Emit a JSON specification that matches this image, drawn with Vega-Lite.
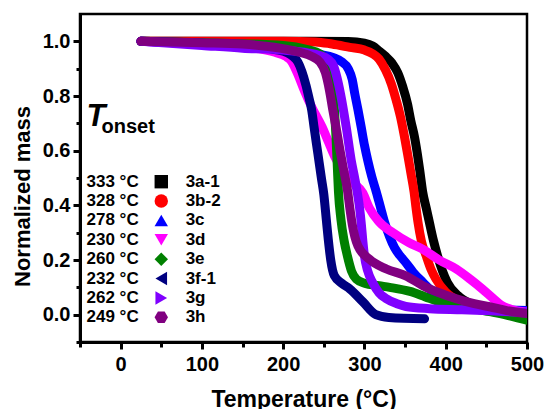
{
  "$schema": "https://vega.github.io/schema/vega-lite/v6.json",
  "width": 447,
  "height": 328,
  "autosize": "none",
  "padding": {"left": 80, "top": 14, "right": 20, "bottom": 67},
  "background": "white",
  "config": {
    "font": "Liberation Sans",
    "view": {"stroke": "black", "strokeWidth": 2.5},
    "axis": {
      "domainColor": "black", "domainWidth": 3, "tickColor": "black", "tickWidth": 3,
      "labelColor": "black", "titleColor": "black", "grid": false,
      "labelFont": "Liberation Sans", "labelFontWeight": "bold", "labelFontSize": 20,
      "titleFont": "Liberation Sans", "titleFontWeight": "bold", "titleFontSize": 22
    }
  },
  "datasets": {
    "curves": [
      {"series":"3a-1","temp":25,"mass":1.0},{"series":"3a-1","temp":100,"mass":1.0},{"series":"3a-1","temp":200,"mass":1.0},{"series":"3a-1","temp":280,"mass":0.999},{"series":"3a-1","temp":300,"mass":0.993},{"series":"3a-1","temp":310,"mass":0.983},{"series":"3a-1","temp":318,"mass":0.965},{"series":"3a-1","temp":326,"mass":0.945},{"series":"3a-1","temp":334,"mass":0.92},{"series":"3a-1","temp":341,"mass":0.885},{"series":"3a-1","temp":347,"mass":0.835},{"series":"3a-1","temp":353,"mass":0.771},{"series":"3a-1","temp":357,"mass":0.71},{"series":"3a-1","temp":361.6,"mass":0.65},{"series":"3a-1","temp":365,"mass":0.59},{"series":"3a-1","temp":368,"mass":0.529},{"series":"3a-1","temp":371.6,"mass":0.45},{"series":"3a-1","temp":376,"mass":0.39},{"series":"3a-1","temp":380,"mass":0.336},{"series":"3a-1","temp":385,"mass":0.27},{"series":"3a-1","temp":390,"mass":0.215},{"series":"3a-1","temp":396,"mass":0.16},{"series":"3a-1","temp":402,"mass":0.118},{"series":"3a-1","temp":415,"mass":0.07},{"series":"3a-1","temp":430,"mass":0.04},{"series":"3a-1","temp":450,"mass":0.02},{"series":"3a-1","temp":500,"mass":0.005},
      {"series":"3b-2","temp":25,"mass":1.0},{"series":"3b-2","temp":100,"mass":1.0},{"series":"3b-2","temp":200,"mass":1.0},{"series":"3b-2","temp":240,"mass":0.998},{"series":"3b-2","temp":260,"mass":0.99},{"series":"3b-2","temp":282,"mass":0.978},{"series":"3b-2","temp":300,"mass":0.968},{"series":"3b-2","temp":310,"mass":0.955},{"series":"3b-2","temp":318,"mass":0.935},{"series":"3b-2","temp":326,"mass":0.895},{"series":"3b-2","temp":333,"mass":0.845},{"series":"3b-2","temp":339,"mass":0.785},{"series":"3b-2","temp":345,"mass":0.715},{"series":"3b-2","temp":349,"mass":0.655},{"series":"3b-2","temp":353,"mass":0.589},{"series":"3b-2","temp":357,"mass":0.52},{"series":"3b-2","temp":361,"mass":0.45},{"series":"3b-2","temp":363.5,"mass":0.39},{"series":"3b-2","temp":366,"mass":0.336},{"series":"3b-2","temp":370,"mass":0.27},{"series":"3b-2","temp":376,"mass":0.215},{"series":"3b-2","temp":382,"mass":0.165},{"series":"3b-2","temp":388,"mass":0.13},{"series":"3b-2","temp":400,"mass":0.083},{"series":"3b-2","temp":420,"mass":0.045},{"series":"3b-2","temp":450,"mass":0.02},{"series":"3b-2","temp":500,"mass":0.005},
      {"series":"3c","temp":25,"mass":1.0},{"series":"3c","temp":100,"mass":0.99},{"series":"3c","temp":180,"mass":0.975},{"series":"3c","temp":220,"mass":0.965},{"series":"3c","temp":245,"mass":0.952},{"series":"3c","temp":262,"mass":0.94},{"series":"3c","temp":272,"mass":0.925},{"series":"3c","temp":280,"mass":0.9},{"series":"3c","temp":285,"mass":0.86},{"series":"3c","temp":288,"mass":0.81},{"series":"3c","temp":292,"mass":0.75},{"series":"3c","temp":296,"mass":0.686},{"series":"3c","temp":300,"mass":0.62},{"series":"3c","temp":304,"mass":0.565},{"series":"3c","temp":309,"mass":0.505},{"series":"3c","temp":314.5,"mass":0.45},{"series":"3c","temp":320,"mass":0.39},{"series":"3c","temp":325,"mass":0.336},{"series":"3c","temp":331,"mass":0.285},{"series":"3c","temp":337,"mass":0.245},{"series":"3c","temp":344,"mass":0.215},{"series":"3c","temp":351,"mass":0.19},{"series":"3c","temp":360,"mass":0.155},{"series":"3c","temp":372,"mass":0.118},{"series":"3c","temp":385,"mass":0.08},{"series":"3c","temp":400,"mass":0.05},{"series":"3c","temp":430,"mass":0.03},{"series":"3c","temp":460,"mass":0.02},{"series":"3c","temp":500,"mass":0.015},
      {"series":"3d","temp":25,"mass":1.0},{"series":"3d","temp":100,"mass":0.99},{"series":"3d","temp":150,"mass":0.98},{"series":"3d","temp":190,"mass":0.96},{"series":"3d","temp":203,"mass":0.945},{"series":"3d","temp":210,"mass":0.928},{"series":"3d","temp":218,"mass":0.88},{"series":"3d","temp":226,"mass":0.82},{"series":"3d","temp":235,"mass":0.76},{"series":"3d","temp":248,"mass":0.686},{"series":"3d","temp":256,"mass":0.63},{"series":"3d","temp":264,"mass":0.575},{"series":"3d","temp":274,"mass":0.525},{"series":"3d","temp":286,"mass":0.483},{"series":"3d","temp":298,"mass":0.445},{"series":"3d","temp":306,"mass":0.39},{"series":"3d","temp":318,"mass":0.34},{"series":"3d","temp":335,"mass":0.3},{"series":"3d","temp":355,"mass":0.263},{"series":"3d","temp":372,"mass":0.239},{"series":"3d","temp":392,"mass":0.2},{"series":"3d","temp":413,"mass":0.167},{"series":"3d","temp":430,"mass":0.13},{"series":"3d","temp":445,"mass":0.094},{"series":"3d","temp":458,"mass":0.06},{"series":"3d","temp":468,"mass":0.035},{"series":"3d","temp":480,"mass":0.02},{"series":"3d","temp":500,"mass":0.01},
      {"series":"3e","temp":25,"mass":1.0},{"series":"3e","temp":100,"mass":0.995},{"series":"3e","temp":200,"mass":0.985},{"series":"3e","temp":230,"mass":0.97},{"series":"3e","temp":245,"mass":0.955},{"series":"3e","temp":252,"mass":0.935},{"series":"3e","temp":257,"mass":0.9},{"series":"3e","temp":261,"mass":0.83},{"series":"3e","temp":263,"mass":0.75},{"series":"3e","temp":265,"mass":0.65},{"series":"3e","temp":266.5,"mass":0.55},{"series":"3e","temp":268,"mass":0.45},{"series":"3e","temp":271,"mass":0.35},{"series":"3e","temp":275,"mass":0.27},{"series":"3e","temp":279,"mass":0.215},{"series":"3e","temp":284,"mass":0.16},{"series":"3e","temp":290,"mass":0.13},{"series":"3e","temp":300,"mass":0.115},{"series":"3e","temp":318,"mass":0.106},{"series":"3e","temp":331,"mass":0.1},{"series":"3e","temp":356,"mass":0.085},{"series":"3e","temp":375,"mass":0.065},{"series":"3e","temp":392,"mass":0.047},{"series":"3e","temp":420,"mass":0.03},{"series":"3e","temp":454,"mass":0.011},{"series":"3e","temp":480,"mass":-0.005},{"series":"3e","temp":500,"mass":-0.02},
      {"series":"3f-1","temp":25,"mass":1.0},{"series":"3f-1","temp":100,"mass":0.993},{"series":"3f-1","temp":150,"mass":0.985},{"series":"3f-1","temp":190,"mass":0.97},{"series":"3f-1","temp":205,"mass":0.958},{"series":"3f-1","temp":212,"mass":0.945},{"series":"3f-1","temp":218,"mass":0.925},{"series":"3f-1","temp":223,"mass":0.89},{"series":"3f-1","temp":228,"mass":0.84},{"series":"3f-1","temp":232,"mass":0.79},{"series":"3f-1","temp":235,"mass":0.75},{"series":"3f-1","temp":238,"mass":0.686},{"series":"3f-1","temp":242.7,"mass":0.589},{"series":"3f-1","temp":247,"mass":0.5},{"series":"3f-1","temp":250,"mass":0.44},{"series":"3f-1","temp":253,"mass":0.35},{"series":"3f-1","temp":255.5,"mass":0.275},{"series":"3f-1","temp":258.5,"mass":0.2},{"series":"3f-1","temp":263,"mass":0.142},{"series":"3f-1","temp":272,"mass":0.115},{"series":"3f-1","temp":282,"mass":0.094},{"series":"3f-1","temp":298,"mass":0.047},{"series":"3f-1","temp":314,"mass":0.0},{"series":"3f-1","temp":330,"mass":-0.01},{"series":"3f-1","temp":374,"mass":-0.015},
      {"series":"3g","temp":25,"mass":1.0},{"series":"3g","temp":100,"mass":0.985},{"series":"3g","temp":150,"mass":0.975},{"series":"3g","temp":200,"mass":0.968},{"series":"3g","temp":230,"mass":0.958},{"series":"3g","temp":245,"mass":0.948},{"series":"3g","temp":255,"mass":0.935},{"series":"3g","temp":262,"mass":0.91},{"series":"3g","temp":266,"mass":0.87},{"series":"3g","temp":270.6,"mass":0.807},{"series":"3g","temp":277.6,"mass":0.686},{"series":"3g","temp":283.7,"mass":0.565},{"series":"3g","temp":288,"mass":0.5},{"series":"3g","temp":291,"mass":0.45},{"series":"3g","temp":294,"mass":0.39},{"series":"3g","temp":296,"mass":0.336},{"series":"3g","temp":298,"mass":0.27},{"series":"3g","temp":300,"mass":0.215},{"series":"3g","temp":304,"mass":0.16},{"series":"3g","temp":310,"mass":0.118},{"series":"3g","temp":318,"mass":0.08},{"series":"3g","temp":327,"mass":0.058},{"series":"3g","temp":340,"mass":0.04},{"series":"3g","temp":351,"mass":0.03},{"series":"3g","temp":380,"mass":0.022},{"series":"3g","temp":420,"mass":0.018},{"series":"3g","temp":454,"mass":0.014},{"series":"3g","temp":500,"mass":0.008},
      {"series":"3h","temp":25,"mass":1.0},{"series":"3h","temp":100,"mass":0.995},{"series":"3h","temp":150,"mass":0.99},{"series":"3h","temp":196,"mass":0.975},{"series":"3h","temp":220,"mass":0.96},{"series":"3h","temp":235,"mass":0.945},{"series":"3h","temp":245,"mass":0.925},{"series":"3h","temp":252,"mass":0.885},{"series":"3h","temp":257,"mass":0.82},{"series":"3h","temp":261,"mass":0.75},{"series":"3h","temp":265,"mass":0.686},{"series":"3h","temp":270,"mass":0.6},{"series":"3h","temp":275,"mass":0.52},{"series":"3h","temp":279,"mass":0.457},{"series":"3h","temp":282,"mass":0.39},{"series":"3h","temp":285,"mass":0.33},{"series":"3h","temp":292,"mass":0.251},{"series":"3h","temp":306,"mass":0.203},{"series":"3h","temp":327,"mass":0.167},{"series":"3h","temp":351,"mass":0.142},{"series":"3h","temp":372,"mass":0.106},{"series":"3h","temp":392,"mass":0.08},{"series":"3h","temp":413,"mass":0.058},{"series":"3h","temp":435,"mass":0.04},{"series":"3h","temp":454,"mass":0.029},{"series":"3h","temp":475,"mass":0.015},{"series":"3h","temp":500,"mass":0.004}
    ],
    "legend": [
      {"series":"3a-1","onset":"333 °C"},
      {"series":"3b-2","onset":"328 °C"},
      {"series":"3c","onset":"278 °C"},
      {"series":"3d","onset":"230 °C"},
      {"series":"3e","onset":"260 °C"},
      {"series":"3f-1","onset":"232 °C"},
      {"series":"3g","onset":"262 °C"},
      {"series":"3h","onset":"249 °C"}
    ]
  },
  "resolve": {"scale": {"y": "independent"}, "axis": {"x": "independent", "y": "independent"}},
  "layer": [
    {
      "resolve": {"axis": {"x": "independent", "y": "independent"}},
      "layer": [
        {
          "data": {"name": "curves"},
          "mark": {"type": "line", "strokeWidth": 9, "strokeCap": "round", "strokeJoin": "round", "interpolate": "monotone", "clip": true},
          "encoding": {
            "x": {"field": "temp", "type": "quantitative",
              "scale": {"domain": [-50, 500], "nice": false, "zero": false},
              "axis": {"orient": "bottom", "values": [0, 100, 200, 300, 400, 500], "tickSize": 7, "labelPadding": 5, "labelFlush": false, "title": "Temperature (°C)", "titleFontSize": 23, "titleY": 64, "titleBaseline": "alphabetic"}},
            "y": {"field": "mass", "type": "quantitative",
              "scale": {"domain": [-0.1, 1.1], "nice": false, "zero": false},
              "axis": {"orient": "left", "values": [0, 0.2, 0.4, 0.6, 0.8, 1.0], "format": ".1f", "tickSize": 7, "labelPadding": 3, "title": "Normalized mass", "titleX": -58, "titleY": 182, "titleAngle": -90, "titleAlign": "center", "titleBaseline": "middle"}},
            "color": {"field": "series", "type": "nominal",
              "scale": {"domain": ["3a-1", "3b-2", "3c", "3d", "3e", "3f-1", "3g", "3h"], "range": ["#000000", "#FF0000", "#0000FF", "#FF00FF", "#008000", "#000080", "#8000FF", "#800080"]},
              "legend": null}
          }
        },
        {
          "data": {"values": [{"label": "T"}]},
          "mark": {"type": "text", "align": "left", "baseline": "alphabetic", "fontSize": 31, "fontStyle": "italic", "fontWeight": "bold", "font": "Liberation Sans", "color": "black"},
          "encoding": {
            "x": {"datum": -42, "type": "quantitative",
              "axis": {"orient": "bottom", "values": [-50, 50, 150, 250, 350, 450], "labels": false, "domain": false, "tickSize": 5, "title": null}},
            "y": {"datum": 0.692, "type": "quantitative",
              "axis": {"orient": "left", "values": [-0.1, 0.1, 0.3, 0.5, 0.7, 0.9], "labels": false, "domain": false, "tickSize": 4, "title": null}},
            "text": {"field": "label"}
          }
        },
        {
          "data": {"values": [{"label": "onset"}]},
          "mark": {"type": "text", "align": "left", "baseline": "alphabetic", "fontSize": 20, "fontWeight": "bold", "font": "Liberation Sans", "color": "black"},
          "encoding": {
            "x": {"datum": -23.5, "type": "quantitative", "axis": null},
            "y": {"datum": 0.663, "type": "quantitative", "axis": null},
            "text": {"field": "label"}
          }
        }
      ]
    },
    {
      "data": {"name": "legend"},
      "encoding": {
        "y": {"field": "series", "type": "nominal",
          "scale": {"type": "point", "domain": ["3a-1", "3b-2", "3c", "3d", "3e", "3f-1", "3g", "3h"], "range": [158, 313]},
          "axis": null}
      },
      "layer": [
        {
          "mark": {"type": "text", "align": "left", "baseline": "middle", "fontSize": 17, "fontWeight": "bold", "color": "black"},
          "encoding": {"x": {"datum": -42, "type": "quantitative", "axis": null}, "text": {"field": "onset"}}
        },
        {
          "mark": {"type": "point", "filled": true, "size": 180, "opacity": 1},
          "encoding": {
            "x": {"datum": 50, "type": "quantitative", "axis": null},
            "shape": {"field": "series", "type": "nominal",
              "scale": {"domain": ["3a-1", "3b-2", "3c", "3d", "3e", "3f-1", "3g", "3h"], "range": ["square", "circle", "triangle-up", "triangle-down", "diamond", "triangle-left", "triangle-right", "M -1 0 L -0.5 -0.866 L 0.5 -0.866 L 1 0 L 0.5 0.866 L -0.5 0.866 Z"]},
              "legend": null},
            "color": {"field": "series", "type": "nominal",
              "scale": {"domain": ["3a-1", "3b-2", "3c", "3d", "3e", "3f-1", "3g", "3h"], "range": ["#000000", "#FF0000", "#0000FF", "#FF00FF", "#008000", "#000080", "#8000FF", "#800080"]},
              "legend": null}
          }
        },
        {
          "mark": {"type": "text", "align": "left", "baseline": "middle", "fontSize": 17, "fontWeight": "bold", "color": "black"},
          "encoding": {"x": {"datum": 80, "type": "quantitative", "axis": null}, "text": {"field": "series"}}
        }
      ]
    }
  ]
}
